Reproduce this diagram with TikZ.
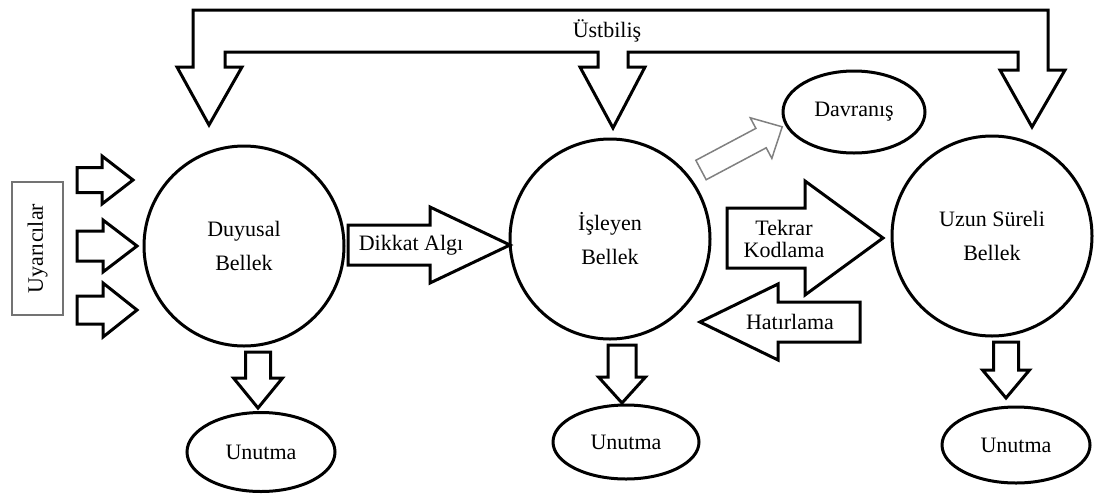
\documentclass[tikz,border=0pt]{standalone}
\usepackage{fontspec}
\setmainfont{Liberation Serif}
\usetikzlibrary{shapes.geometric}
\newcommand\blkh[6]{\draw[blk] (#1,{#4-#5})--(#2,{#4-#5})--(#2,{#4-#6})--(#3,#4)--(#2,{#4+#6})--(#2,{#4+#5})--(#1,{#4+#5})--cycle;}
\newcommand\blkv[6]{\draw[blk] ({#4-#5},#1)--({#4-#5},#2)--({#4-#6},#2)--(#4,#3)--({#4+#6},#2)--({#4+#5},#2)--({#4+#5},#1)--cycle;}
\begin{document}
\begin{tikzpicture}[x=1pt,y=-1pt,line join=miter,
 mem/.style={circle,draw,line width=3pt,minimum size=200pt,inner sep=0pt,align=center,font=\fontsize{22}{34}\selectfont},
 oval/.style={ellipse,draw,line width=3pt,inner sep=0pt,font=\fontsize{22}{26}\selectfont},
 blk/.style={draw,line width=3pt,fill=white},
 lbl/.style={font=\fontsize{22}{22}\selectfont,inner sep=0pt,align=center}]
\useasboundingbox (0,0) rectangle (1094,493);
% Ustbilis frame
\draw[blk] (209,125)--(242,67)--(225,67)--(225,52)--(598,52)--(598,67)--(580,67)--(613,128)--(645,67)--(628,67)--(628,52)--(1018,52)--(1018,70)--(1000,70)--(1032,127)--(1065,70)--(1048,70)--(1048,10)--(193,10)--(193,67)--(177,67)--cycle;
\node[lbl] (ust) at (607,31) {Üstbiliş};
% stimuli
\node[draw=black!55,line width=1.5pt,minimum width=133pt,minimum height=51pt,inner sep=0pt,rotate=90,font=\fontsize{22}{22}\selectfont] (uyar) at (37.5,248.5) {Uyarıcılar};
\blkh{77}{102}{133}{180}{12.5}{24}
\blkh{77}{103}{137}{246}{15}{26}
\blkh{77}{103}{137}{310}{14}{27}
% memories
\node[mem] (duy) at (244,246) {Duyusal\\Bellek};
\node[mem] (isl) at (610,239) {İşleyen\\Bellek};
\node[mem] (uzs) at (992,236) {Uzun Süreli\\Bellek};
% transfer arrows
\blkh{348}{430}{510}{245}{20}{38}
\node[lbl] (dik) at (411,245) {Dikkat Algı};
\blkh{727}{805}{883}{238}{30}{57}
\node[lbl] (tek) at (784,239) {Tekrar\\Kodlama};
\blkh{860}{778}{700}{322}{20}{38}
\node[lbl] (hat) at (790,322) {Hatırlama};
% behaviour
\node[oval,minimum width=142pt,minimum height=82pt] (dav) at (854,112) {Davranış};
\begin{scope}[shift={(701,170)},rotate=28]
\draw[draw=black!50,line width=1.5pt,fill=white] (0,-11)--(68,-11)--(68,-23)--(92,0)--(68,23)--(68,11)--(0,11)--cycle;
\end{scope}
% forgetting
\blkv{352}{378}{408}{258}{12.5}{24.5}
\blkv{345}{377}{403}{622}{14}{23.5}
\blkv{342}{370}{398}{1006}{12.5}{23.5}
\node[oval,minimum width=148pt,minimum height=79pt] (un1) at (261,452) {Unutma};
\node[oval,minimum width=146pt,minimum height=74pt] (un2) at (626,442) {Unutma};
\node[oval,minimum width=148pt,minimum height=76pt] (un3) at (1016,445) {Unutma};
\end{tikzpicture}
\end{document}
